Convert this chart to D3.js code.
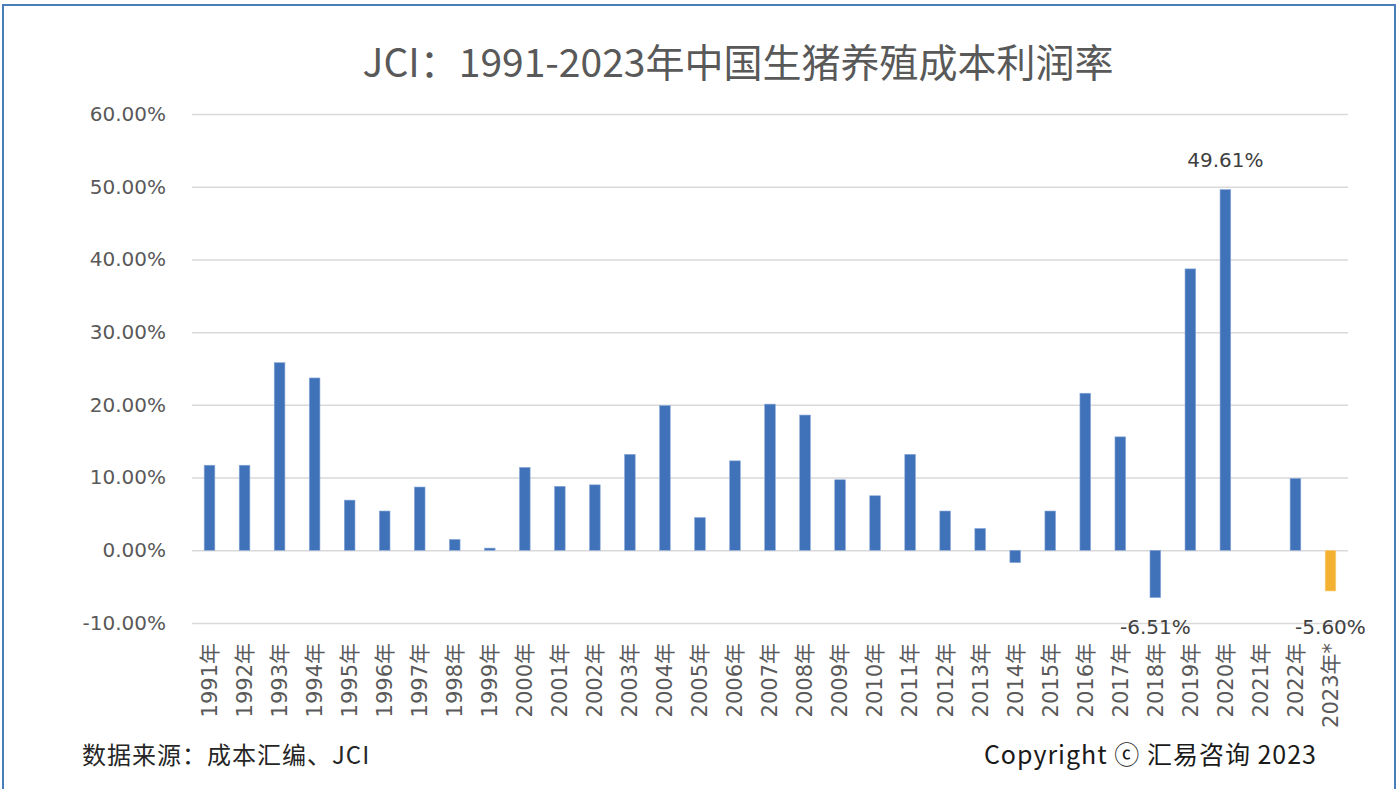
<html>
<head>
<meta charset="utf-8">
<title>JCI 生猪养殖成本利润率</title>
<script src="https://cdn.jsdelivr.net/npm/d3@7"></script>
<style>
  * { margin: 0; padding: 0; }
  body { background: #fff; }
  #chart { width: 1400px; height: 789px; }
  text { font-family: "Noto Sans CJK SC", "Noto Sans", sans-serif; }
</style>
</head>
<body>
<div id="chart"></div>
<script>
// categories and values (profit rate, fraction)
var years = ['1991年','1992年','1993年','1994年','1995年','1996年','1997年','1998年','1999年','2000年',
             '2001年','2002年','2003年','2004年','2005年','2006年','2007年','2008年','2009年','2010年',
             '2011年','2012年','2013年','2014年','2015年','2016年','2017年','2018年','2019年','2020年',
             '2021年','2022年','2023年*'];
var profitRate = [0.117, 0.117, 0.258, 0.237, 0.069, 0.054, 0.087, 0.015, 0.003, 0.114,
                  0.088, 0.090, 0.132, 0.199, 0.045, 0.123, 0.201, 0.186, 0.097, 0.075,
                  0.132, 0.054, 0.030, -0.017, 0.054, 0.216, 0.156, -0.0651, 0.387, 0.4961,
                  0, 0.099, -0.056];
var estimateYears = ['2023年*'];           // drawn in orange
var labelledYears = ['2018年', '2020年', '2023年*'];
var yTicks = [-0.1, 0, 0.1, 0.2, 0.3, 0.4, 0.5, 0.6];

var title = 'JCI：1991-2023年中国生猪养殖成本利润率';
var sourceText = '数据来源：成本汇编、JCI';
var copyrightText = 'Copyright ⓒ 汇易咨询 2023';

var data = years.map(function(y, i) { return {year: y, value: profitRate[i]}; });

var svg = d3.select('#chart').append('svg')
    .attr('width', 1400)
    .attr('height', 789);

svg.append('rect')
    .attr('x', 0).attr('y', 0).attr('width', 1400).attr('height', 789)
    .attr('fill', '#fff');

// outer frame
svg.append('rect')
    .attr('x', 3).attr('y', 5).attr('width', 1392).attr('height', 800)
    .attr('fill', 'none')
    .attr('stroke', '#4a7ebb')
    .attr('stroke-width', 2);

var x = d3.scaleBand()
    .domain(years)
    .range([192, 1348])
    .paddingInner(0.695)
    .paddingOuter(0.3475);

var y = d3.scaleLinear()
    .domain([-0.1, 0.6])
    .range([623, 114]);

var pct = d3.format('.2%');
var fmt = function(v) { return pct(v).replace('\u2212', '-'); };
var numFont = '"DejaVu Sans", sans-serif';

// gridlines + y labels
var yAxis = d3.axisLeft(y)
    .tickValues(yTicks)
    .tickSize(-(1348 - 192))
    .tickPadding(26)
    .tickFormat(fmt);

var gy = svg.append('g')
    .attr('transform', 'translate(192,0)')
    .call(yAxis);
gy.select('.domain').remove();
gy.selectAll('.tick line')
    .attr('stroke', '#d9d9d9')
    .attr('stroke-width', 1.5);
gy.selectAll('.tick text')
    .attr('fill', '#595959')
    .style('font-family', numFont)
    .style('font-size', '20px');

// bars
svg.selectAll('rect.bar')
    .data(data)
  .enter().append('rect')
    .attr('class', 'bar')
    .attr('x', function(d) { return x(d.year); })
    .attr('width', x.bandwidth())
    .attr('y', function(d) { return y(Math.max(0, d.value)); })
    .attr('height', function(d) { return Math.abs(y(d.value) - y(0)); })
    .attr('fill', function(d) { return estimateYears.indexOf(d.year) >= 0 ? '#f4b131' : '#3f72b9'; })
    .attr('stroke', function(d) { return estimateYears.indexOf(d.year) >= 0 ? '#f9d58f' : '#8eaad9'; })
    .attr('stroke-width', 0.6);

// data labels
svg.selectAll('text.dlabel')
    .data(data.filter(function(d) { return labelledYears.indexOf(d.year) >= 0; }))
  .enter().append('text')
    .attr('class', 'dlabel')
    .attr('x', function(d) { return x(d.year) + x.bandwidth() / 2; })
    .attr('y', function(d) { return d.value >= 0 ? y(d.value) - 23 : 634; })
    .attr('text-anchor', 'middle')
    .attr('fill', '#404040')
    .style('font-family', numFont)
    .style('font-size', '20px')
    .text(function(d) { return fmt(d.value); });

// x labels, rotated
var xAxis = d3.axisBottom(x).tickSize(0).tickPadding(0);
var gx = svg.append('g')
    .attr('transform', 'translate(0,' + y(-0.1) + ')')
    .call(xAxis);
gx.select('.domain').remove();
gx.selectAll('.tick text')
    .attr('y', 0)
    .attr('dy', '0.35em')
    .attr('text-anchor', 'end')
    .attr('transform', 'translate(0,20) rotate(-90)')
    .attr('fill', '#595959')
    .style('font-family', '"DejaVu Sans", "Noto Sans CJK SC", sans-serif')
    .style('font-size', '21px');

// title
svg.append('text')
    .attr('x', 738)
    .attr('y', 77)
    .attr('text-anchor', 'middle')
    .attr('fill', '#595959')
    .style('font-size', '39px')
    .text(title);

// footer
svg.append('text')
    .attr('x', 82)
    .attr('y', 764)
    .attr('fill', '#262626')
    .style('font-size', '24px')
    .style('letter-spacing', '1px')
    .text(sourceText);

svg.append('text')
    .attr('x', 1317)
    .attr('y', 764)
    .attr('text-anchor', 'end')
    .attr('fill', '#1a1a1a')
    .style('font-size', '25px')
    .style('letter-spacing', '1px')
    .text(copyrightText);
</script>
</body>
</html>
